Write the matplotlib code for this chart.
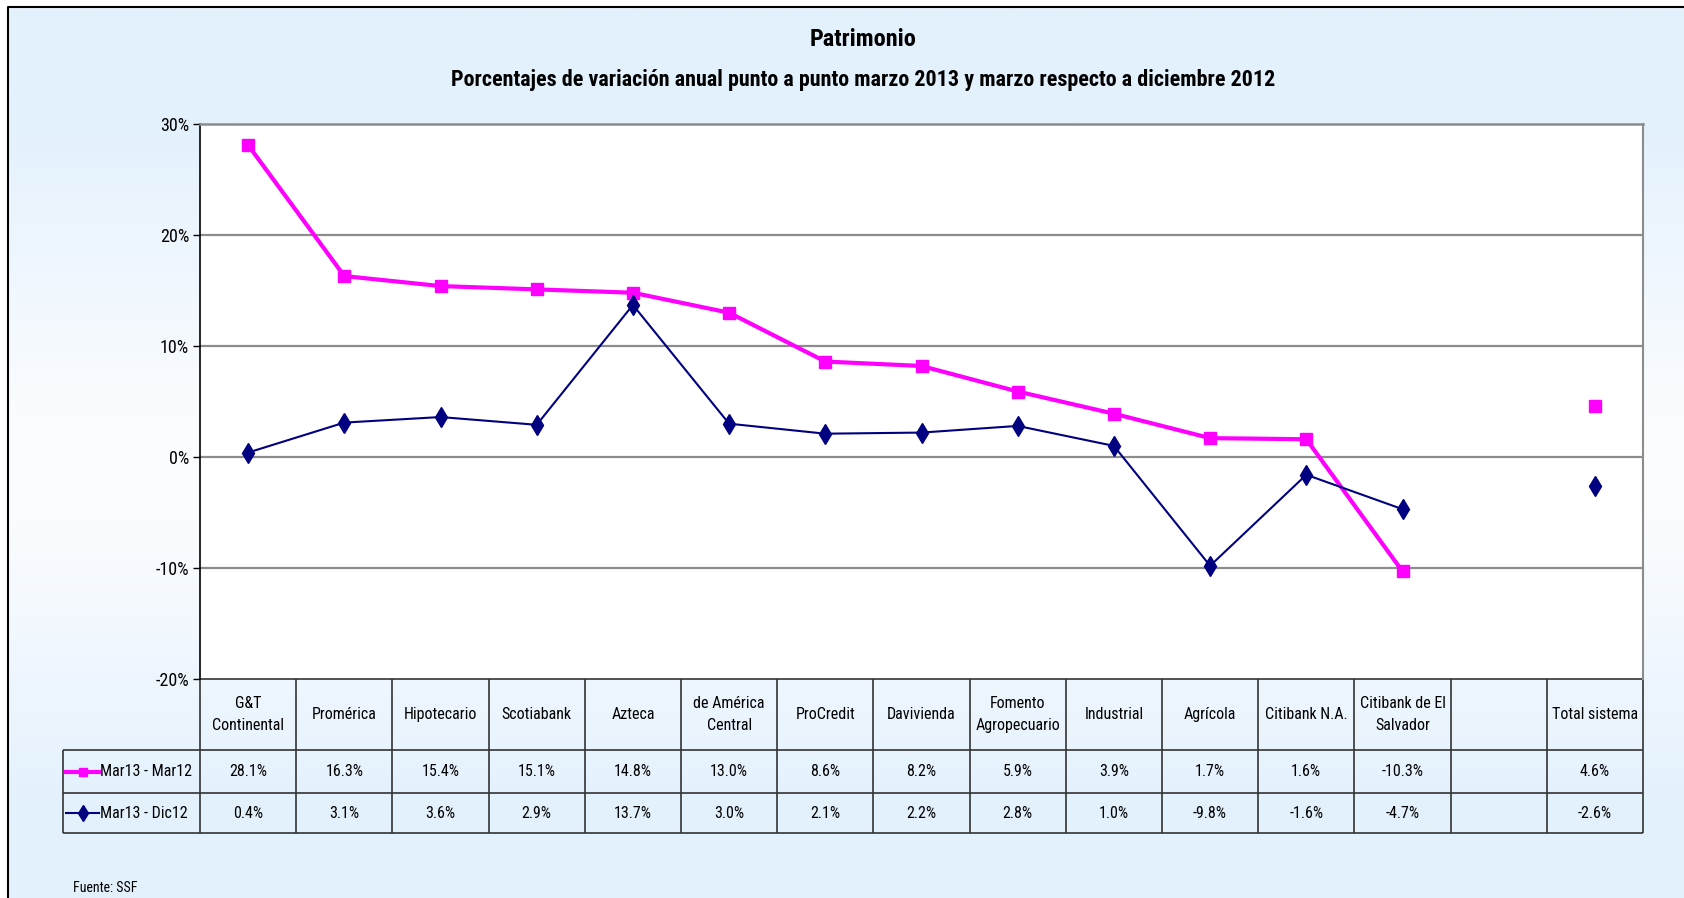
import numpy as np
import matplotlib
matplotlib.use("Agg")
import matplotlib.pyplot as plt
from matplotlib import font_manager
from matplotlib.transforms import blended_transform_factory
from matplotlib.lines import Line2D

# ---------------- data ----------------
categories = ["G&T\nContinental", "Promérica", "Hipotecario", "Scotiabank", "Azteca",
              "de América\nCentral", "ProCredit", "Davivienda", "Fomento\nAgropecuario",
              "Industrial", "Agrícola", "Citibank N.A.", "Citibank de El\nSalvador", "",
              "Total sistema"]
mar13_mar12 = [28.1, 16.3, 15.4, 15.1, 14.8, 13.0, 8.6, 8.2, 5.9, 3.9, 1.7, 1.6, -10.3, np.nan, 4.6]
mar13_dic12 = [0.4, 3.1, 3.6, 2.9, 13.7, 3.0, 2.1, 2.2, 2.8, 1.0, -9.8, -1.6, -4.7, np.nan, -2.6]
series_names = ["Mar13 - Mar12", "Mar13 - Dic12"]
yticks = [-20, -10, 0, 10, 20, 30]
title = "Patrimonio"
subtitle = "Porcentajes de variación anual punto a punto marzo 2013 y marzo respecto a diciembre 2012"
source = "Fuente: SSF"

# ---------------- fonts ----------------
entries = font_manager.fontManager.ttflist
avail = {f.name for f in entries}
bold_avail = {f.name for f in entries if (f.weight if isinstance(f.weight, int) else 400) >= 700
              or str(f.weight) == "bold"}


def pick(cands, pool):
    for c in cands:
        if c in pool:
            return c
    return "DejaVu Sans"


body_font = pick(["Roboto Condensed", "Archivo Narrow", "Asap Condensed", "Barlow Semi Condensed"], avail)
bold_font = pick(["Roboto Condensed", "Asap Condensed", "Barlow Semi Condensed"], bold_avail)
plt.rcParams["font.family"] = [body_font, "DejaVu Sans"]

W, H = 1684, 898
fig = plt.figure(figsize=(W / 100, H / 100), dpi=100)
fig.patch.set_facecolor("white")

# background gradient
bg = fig.add_axes([0, 0, 1, 1], zorder=-10)
bg.set_axis_off()
yy = np.linspace(0, 1, 300)[:, None]
xx = np.linspace(0, 1, 300)[None, :]
t = np.clip(np.abs(yy - 0.52) / 0.38, 0, 1) ** 1.3
t = t * np.ones_like(xx)
blue = np.array([227, 241, 253]) / 255.0
white = np.array([252, 253, 255]) / 255.0
img = white[None, None, :] * (1 - t[..., None]) + blue[None, None, :] * t[..., None]
bg.imshow(img, extent=[0, W, H, 0], aspect="auto")
bg.fill_between([0, W], [0, 0], [7, 7], color="white")
bg.fill_between([0, 8], [0, 0], [H, H], color="white")
bg.plot([8, 8, W + 5], [H + 5, 7, 7], color="black", lw=1.5)
bg.set_xlim(0, W)
bg.set_ylim(H, 0)

# main axes
L, R, T, B = 200, 1643, 124, 679
ax = fig.add_axes([L / W, 1 - B / H, (R - L) / W, (B - T) / H])
ax.set_facecolor("white")
n = len(categories)
x = np.arange(n)
ax.set_xlim(-0.5, n - 0.5)
ax.set_ylim(-20, 30)
ax.set_yticks(yticks)
ax.set_yticklabels([f"{v}%" for v in yticks], fontsize=13)
ax.set_xticks([])
ax.tick_params(axis="y", direction="out", length=5, width=1, color="black", pad=3)
for v in yticks[1:-1]:
    ax.axhline(v, color="#8c8c8c", lw=1.6, zorder=1)
ax.spines["left"].set_color("black")
ax.spines["left"].set_linewidth(1.2)
ax.spines["top"].set_color("#8c8c8c")
ax.spines["top"].set_linewidth(1.8)
ax.spines["right"].set_color("#8c8c8c")
ax.spines["right"].set_linewidth(1.5)
ax.spines["bottom"].set_visible(False)

pink = "#FF00FF"
navy = "#000080"
ax.plot(x, mar13_mar12, color=pink, lw=3, marker="s", ms=8, mec=pink, mfc=pink, zorder=3)
ax.plot(x, mar13_dic12, color=navy, lw=1.5, marker="d", ms=10, mec=navy, mfc=navy, zorder=4)

# ---------------- table ----------------
tr = blended_transform_factory(ax.transData, ax.transAxes)
ph = B - T
y_top = 0.0
y_h = -(750 - B) / ph
y_r1 = -(793 - B) / ph
y_r2 = -(833 - B) / ph
px_per_unit = (R - L) / n
x_leg = -0.5 - (L - 63) / px_per_unit
lc = "#333333"
lw = 1.2
kw = dict(transform=tr, color=lc, lw=lw, clip_on=False, solid_capstyle="butt")
ax.plot([-0.5, n - 0.5], [y_top, y_top], **kw)
ax.plot([x_leg, n - 0.5], [y_h, y_h], **kw)
ax.plot([x_leg, n - 0.5], [y_r1, y_r1], **kw)
ax.plot([x_leg, n - 0.5], [y_r2, y_r2], **kw)
for i in range(n + 1):
    ax.plot([i - 0.5, i - 0.5], [y_top, y_r2], **kw)
ax.plot([x_leg, x_leg], [y_h, y_r2], **kw)

fs = 11.5
for i, c in enumerate(categories):
    ax.text(i, (y_top + y_h) / 2, c, transform=tr, ha="center", va="center",
            fontsize=fs, linespacing=1.65, clip_on=False)
    for vals, yc in ((mar13_mar12, (y_h + y_r1) / 2), (mar13_dic12, (y_r1 + y_r2) / 2)):
        v = vals[i]
        if not np.isnan(v):
            ax.text(i, yc, f"{v:.1f}%", transform=tr, ha="center", va="center",
                    fontsize=fs, clip_on=False)

for name, col, mk, ms, lwk, yc in ((series_names[0], pink, "s", 6, 3, (y_h + y_r1) / 2),
                                   (series_names[1], navy, "d", 8, 1.5, (y_r1 + y_r2) / 2)):
    x0 = x_leg + 3 / px_per_unit
    x1 = x_leg + 36 / px_per_unit
    ax.add_line(Line2D([x0, x1], [yc, yc], transform=tr, color=col, lw=lwk, clip_on=False))
    ax.add_line(Line2D([(x0 + x1) / 2], [yc], transform=tr, color=col, marker=mk, ms=ms,
                       mfc=col, mec=col, clip_on=False))
    ax.text(x1 + 1 / px_per_unit, yc, name, transform=tr, ha="left", va="center",
            fontsize=fs, clip_on=False)

# titles and source
xc = 863 / W
fig.text(xc, 1 - 39 / H, title, ha="center", va="center",
         fontsize=17.5, fontweight="bold", family=[bold_font, "DejaVu Sans"])
fig.text(xc, 1 - 80 / H, subtitle, ha="center", va="center", fontsize=15.8,
         fontweight="bold", family=[bold_font, "DejaVu Sans"])
fig.text(73 / W, 1 - 888 / H, source, ha="left", va="center", fontsize=10)

fig.savefig("out.png", dpi=100, facecolor=fig.get_facecolor())
